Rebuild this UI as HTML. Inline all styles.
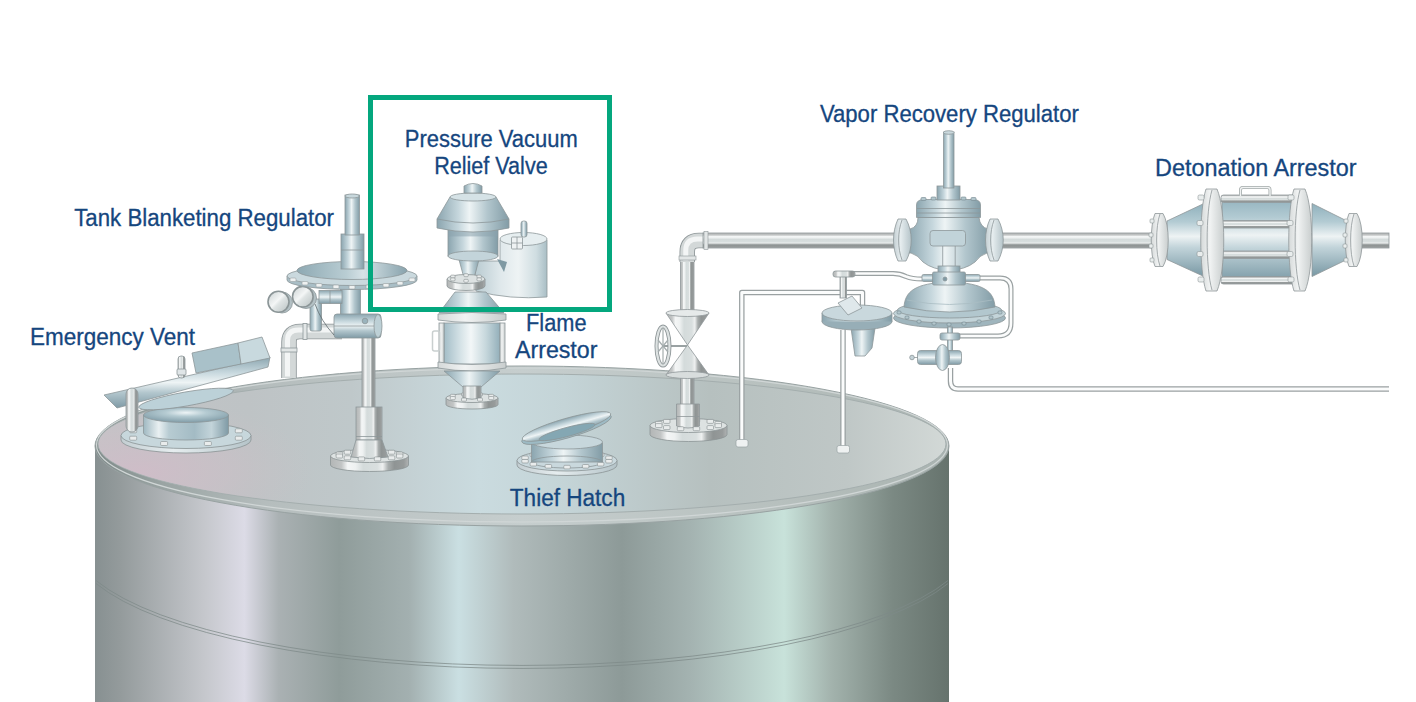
<!DOCTYPE html>
<html><head><meta charset="utf-8"><title>Tank</title>
<style>
html,body{margin:0;padding:0;background:#fff;width:1416px;height:702px;overflow:hidden}
svg{display:block}
.lb{font-family:"Liberation Sans",sans-serif;font-size:23px;fill:#15467e;stroke:#15467e;stroke-width:0.3px}
</style></head><body>
<svg width="1416" height="702" viewBox="0 0 1416 702">
<defs>
<linearGradient id="bodyG" gradientUnits="userSpaceOnUse" x1="95" y1="0" x2="949" y2="0">
<stop offset="0" stop-color="#879091"/>
<stop offset="0.03" stop-color="#949b9c"/>
<stop offset="0.13" stop-color="#c6c8cd"/>
<stop offset="0.175" stop-color="#dcdbe6"/>
<stop offset="0.215" stop-color="#aab1b3"/>
<stop offset="0.286" stop-color="#8f9c9a"/>
<stop offset="0.368" stop-color="#a3b0b0"/>
<stop offset="0.426" stop-color="#cadfe2"/>
<stop offset="0.49" stop-color="#b0bbbb"/>
<stop offset="0.617" stop-color="#8d9a98"/>
<stop offset="0.698" stop-color="#a4b3b1"/>
<stop offset="0.807" stop-color="#c8e2da"/>
<stop offset="0.862" stop-color="#a3b3ad"/>
<stop offset="0.934" stop-color="#7b8983"/>
<stop offset="1" stop-color="#66736d"/>
</linearGradient>
<linearGradient id="lidG" gradientUnits="userSpaceOnUse" x1="95" y1="0" x2="949" y2="0">
<stop offset="0" stop-color="#c2c4c7"/>
<stop offset="0.18" stop-color="#bec3c5"/>
<stop offset="0.3" stop-color="#bfc8ca"/>
<stop offset="0.45" stop-color="#cadbdf"/>
<stop offset="0.55" stop-color="#c4d4d7"/>
<stop offset="0.72" stop-color="#b6c0bf"/>
<stop offset="0.88" stop-color="#bfc7c6"/>
<stop offset="1" stop-color="#d3d9d7"/>
</linearGradient>
<radialGradient id="pinkG" gradientUnits="userSpaceOnUse" cx="140" cy="472" r="175" gradientTransform="translate(140 472) scale(1 0.42) translate(-140 -472)">
<stop offset="0" stop-color="#d0bcc8" stop-opacity="0.9"/>
<stop offset="0.5" stop-color="#cdbfc7" stop-opacity="0.55"/>
<stop offset="1" stop-color="#c8c2c6" stop-opacity="0"/>
</radialGradient>
<linearGradient id="rimG" gradientUnits="userSpaceOnUse" x1="95" y1="0" x2="949" y2="0">
<stop offset="0" stop-color="#808b8a"/>
<stop offset="0.08" stop-color="#9aa4a3"/>
<stop offset="0.2" stop-color="#b5bdbd"/>
<stop offset="0.5" stop-color="#c6cece"/>
<stop offset="0.8" stop-color="#b7c0be"/>
<stop offset="1" stop-color="#a9b3b0"/>
</linearGradient>

<linearGradient id="pv" x1="0" y1="0" x2="1" y2="0">
<stop offset="0" stop-color="#b3b6b6"/><stop offset="0.14" stop-color="#c2c5c5"/><stop offset="0.22" stop-color="#f4f6f6"/><stop offset="0.32" stop-color="#eef1f1"/><stop offset="0.42" stop-color="#d4dbdb"/><stop offset="0.6" stop-color="#d9dfdf"/><stop offset="0.67" stop-color="#eef0f0"/><stop offset="0.74" stop-color="#a9aeae"/><stop offset="0.82" stop-color="#8f9494"/><stop offset="0.94" stop-color="#979b9b"/><stop offset="1" stop-color="#b0b3b3"/>
</linearGradient>
<linearGradient id="ph" x1="0" y1="0" x2="0" y2="1">
<stop offset="0" stop-color="#b3b6b6"/><stop offset="0.14" stop-color="#c2c5c5"/><stop offset="0.22" stop-color="#f4f6f6"/><stop offset="0.32" stop-color="#eef1f1"/><stop offset="0.42" stop-color="#d4dbdb"/><stop offset="0.6" stop-color="#d9dfdf"/><stop offset="0.67" stop-color="#eef0f0"/><stop offset="0.74" stop-color="#a9aeae"/><stop offset="0.82" stop-color="#8f9494"/><stop offset="0.94" stop-color="#979b9b"/><stop offset="1" stop-color="#b0b3b3"/>
</linearGradient>
<linearGradient id="mv" x1="0" y1="0" x2="1" y2="0">
<stop offset="0" stop-color="#8ba5af"/><stop offset="0.3" stop-color="#c6d7dd"/><stop offset="0.45" stop-color="#eef4f5"/><stop offset="0.7" stop-color="#b2c6cd"/><stop offset="1" stop-color="#829ca6"/>
</linearGradient>
<linearGradient id="mh" x1="0" y1="0" x2="0" y2="1">
<stop offset="0" stop-color="#8ba5af"/><stop offset="0.3" stop-color="#c6d7dd"/><stop offset="0.5" stop-color="#eef4f5"/><stop offset="0.7" stop-color="#b2c6cd"/><stop offset="1" stop-color="#7f9aa5"/>
</linearGradient>
<linearGradient id="mi" x1="0" y1="0" x2="1" y2="0">
<stop offset="0" stop-color="#7d98a3"/><stop offset="0.5" stop-color="#a9c0c8"/><stop offset="1" stop-color="#c9d9de"/>
</linearGradient>
<linearGradient id="fl" x1="0" y1="0" x2="1" y2="0">
<stop offset="0" stop-color="#c3ced2"/><stop offset="0.4" stop-color="#e6edef"/><stop offset="1" stop-color="#b5c4c9"/>
</linearGradient>
<linearGradient id="wf" x1="0" y1="0" x2="1" y2="0">
<stop offset="0" stop-color="#d5d9d9"/><stop offset="0.4" stop-color="#f1f3f3"/><stop offset="1" stop-color="#c9cece"/>
</linearGradient>

<linearGradient id="dg" x1="0" y1="0" x2="0" y2="1">
<stop offset="0" stop-color="#8fb0bc"/><stop offset="0.25" stop-color="#b3cbd3"/><stop offset="0.45" stop-color="#eef3f4"/><stop offset="0.6" stop-color="#c2d4da"/><stop offset="1" stop-color="#7898a4"/>
</linearGradient>
<linearGradient id="lw" x1="0" y1="0" x2="1" y2="0">
<stop offset="0" stop-color="#b9cbd1"/><stop offset="0.35" stop-color="#dfe8eb"/><stop offset="0.6" stop-color="#eef3f4"/><stop offset="0.85" stop-color="#cfdde1"/><stop offset="1" stop-color="#a9bec5"/>
</linearGradient>
<linearGradient id="gz" x1="0" y1="0" x2="1" y2="1">
<stop offset="0" stop-color="#c9d0d1"/><stop offset="0.45" stop-color="#f4f6f6"/><stop offset="0.55" stop-color="#dfe4e4"/><stop offset="1" stop-color="#b8c1c2"/>
</linearGradient>
<linearGradient id="dish" x1="0" y1="0" x2="1" y2="0">
<stop offset="0" stop-color="#8ea9b3"/><stop offset="0.45" stop-color="#b9cdd3"/><stop offset="0.6" stop-color="#d6e2e6"/><stop offset="1" stop-color="#88a3ad"/>
</linearGradient>
<linearGradient id="evc" x1="0" y1="0" x2="1" y2="0">
<stop offset="0" stop-color="#9fb8c1"/><stop offset="0.18" stop-color="#e9f0f2"/><stop offset="0.3" stop-color="#b7cbd2"/><stop offset="0.6" stop-color="#a3bbc4"/><stop offset="0.8" stop-color="#c3d4da"/><stop offset="1" stop-color="#7f9aa5"/>
</linearGradient>
<radialGradient id="evi" cx="0.5" cy="0.35" r="0.6">
<stop offset="0" stop-color="#eef4f6"/><stop offset="0.4" stop-color="#b5cbd2"/><stop offset="1" stop-color="#87a2ad"/>
</radialGradient>
<linearGradient id="lb" x1="0" y1="0" x2="1" y2="0">
<stop offset="0" stop-color="#a3bdc7"/><stop offset="0.3" stop-color="#d6e3e7"/><stop offset="0.48" stop-color="#f3f7f8"/><stop offset="0.75" stop-color="#c6d7dc"/><stop offset="1" stop-color="#93afba"/>
</linearGradient>
</defs>




<!-- TANK -->
<rect x="95" y="445" width="854" height="257" fill="url(#bodyG)"/>
<ellipse cx="522" cy="446" rx="427" ry="80" fill="url(#rimG)" stroke="#98a2a2" stroke-width="1"/>
<ellipse cx="522" cy="445" rx="425.5" ry="77" fill="none" stroke="#d0d6d6" stroke-width="1.2"/>
<ellipse cx="522" cy="444" rx="424" ry="70" fill="url(#lidG)" stroke="#a4aeae" stroke-width="1"/>
<ellipse cx="522" cy="444" rx="423.5" ry="69.5" fill="url(#pinkG)"/>
<path d="M96,580.5 A450,125.3 0 0 0 948,580.5" fill="none" stroke="#7d8988" stroke-width="1" opacity="0.75"/>
<path d="M96,583.5 A450,125.3 0 0 0 948,583.5" fill="none" stroke="#7d8988" stroke-width="1" opacity="0.75"/>


<!-- EMERGENCY VENT -->
<g stroke="#8d9799" stroke-width="0.8">
<path d="M121.0,435.5 L121.0,440.0 A65,13 0 0 0 251.0,440.0 L251.0,435.5 Z" fill="url(#fl)" stroke="#8a9394" stroke-width="0.8"/>
<ellipse cx="186" cy="435.5" rx="65" ry="13" fill="#c7d7dc" stroke="#8a9394" stroke-width="0.8"/>
<g fill="#e9ecec" stroke="#848d8e" stroke-width="0.6"><rect x="129.7" y="428.8" width="7" height="4" rx="1"/><rect x="160.6" y="423.5" width="7" height="4" rx="1"/><rect x="204.4" y="423.5" width="7" height="4" rx="1"/><rect x="235.3" y="428.8" width="7" height="4" rx="1"/></g>

<path d="M143.5,415 L143.5,433 A42.5,7 0 0 0 228.5,433 L228.5,415 Z" fill="url(#evc)"/>
<ellipse cx="186" cy="415" rx="42.5" ry="7.5" fill="url(#evi)"/>
<ellipse cx="186" cy="399" rx="48" ry="7" transform="rotate(-10 186 399)" fill="#bcd1d8"/>
<path d="M104,395 L270,357 L268,367 L117,408 Z" fill="url(#mh)"/>
<path d="M192,353 L238,343 L241,364 L196,373 Z" fill="#a9c1c9"/>
<path d="M238,343 L262,337 L270,358 L241,364 Z" fill="#c8d9de"/>
<rect x="178" y="356" width="7" height="22" rx="3" fill="url(#pv)"/>
<rect x="177" y="369" width="9" height="6" rx="1" fill="#dfe5e7"/>
<rect x="126" y="388" width="12" height="44" rx="6" fill="url(#pv)"/>
</g>
<g fill="#e9ecec" stroke="#848d8e" stroke-width="0.6"><rect x="235.3" y="436.2" width="7" height="4" rx="1"/><rect x="204.4" y="441.5" width="7" height="4" rx="1"/><rect x="160.6" y="441.5" width="7" height="4" rx="1"/><rect x="129.7" y="436.2" width="7" height="4" rx="1"/></g>



<!-- TANK BLANKETING REGULATOR -->
<g stroke="#8d9799" stroke-width="0.8">
<!-- elbow + horizontal pipe -->
<path d="M289,378 L289,342 Q289,331.5 300,331.5 L342,331.5" fill="none" stroke="#8f9799" stroke-width="15.5"/>
<path d="M289,378 L289,342 Q289,331.5 300,331.5 L342,331.5" fill="none" stroke="#d3d8d8" stroke-width="13.8"/>
<path d="M289,378 L289,342 Q289,331.5 300,331.5 L342,331.5" fill="none" stroke="#f3f5f5" stroke-width="5" transform="translate(-1.5,-1.5)"/>
<rect x="281" y="348" width="16" height="4" fill="#e2e6e6"/>
<rect x="303" y="323.5" width="4" height="16" fill="#e2e6e6"/>
<!-- lower vertical pipe -->
<rect x="362" y="336" width="13" height="72" fill="url(#pv)"/>
<path d="M330.5,456.0 L330.5,465.0 A39,6.5 0 0 0 408.5,465.0 L408.5,456.0 Z" fill="url(#pv)" stroke="#8a9394" stroke-width="0.8"/>
<ellipse cx="369.5" cy="456" rx="39" ry="6.5" fill="#dde2e2" stroke="#8a9394" stroke-width="0.8"/>
<g fill="#e9ecec" stroke="#848d8e" stroke-width="0.6"><rect x="336.1" y="452.0" width="6.5" height="4" rx="1"/><rect x="344.2" y="450.2" width="6.5" height="4" rx="1"/><rect x="358.2" y="449.1" width="6.5" height="4" rx="1"/><rect x="374.3" y="449.1" width="6.5" height="4" rx="1"/><rect x="388.3" y="450.2" width="6.5" height="4" rx="1"/><rect x="396.4" y="452.0" width="6.5" height="4" rx="1"/></g>
<rect x="356" y="407" width="26" height="33" fill="url(#pv)"/>
<line x1="356" y1="436.5" x2="382" y2="436.5"/>
<path d="M356,440 L382,440 L388,457 Q369.5,460 351,457 Z" fill="url(#pv)"/>
<g fill="#e9ecec" stroke="#848d8e" stroke-width="0.6"><rect x="396.4" y="454.0" width="6.5" height="4" rx="1"/><rect x="388.3" y="455.8" width="6.5" height="4" rx="1"/><rect x="374.3" y="456.9" width="6.5" height="4" rx="1"/><rect x="358.2" y="456.9" width="6.5" height="4" rx="1"/><rect x="344.2" y="455.8" width="6.5" height="4" rx="1"/><rect x="336.1" y="454.0" width="6.5" height="4" rx="1"/></g>

<!-- body -->
<rect x="310" y="299" width="11.5" height="32" rx="2" fill="url(#mv)"/>
<rect x="340.5" y="284" width="20" height="33" fill="url(#mv)"/>
<rect x="319" y="290.5" width="23" height="13" fill="url(#mh)"/>
<line x1="330" y1="290.5" x2="330" y2="303.5"/>
<rect x="334" y="314" width="47" height="24" rx="3" fill="url(#mh)"/>
<ellipse cx="378" cy="326" rx="4" ry="11.5" fill="#bdd0d6"/>
<circle cx="365" cy="321" r="2.8" fill="#9ab3bc"/>
<line x1="334" y1="326" x2="374" y2="326"/>
<path d="M315,304 Q321,321 334,335" fill="none" stroke="#5f6b6e" stroke-width="0.8"/>
<!-- gauges -->
<circle cx="282" cy="302.5" r="10.5" fill="#b3c0c4"/>
<circle cx="306" cy="298" r="10.5" fill="#b3c0c4"/>
<circle cx="278.5" cy="301.8" r="10.5" fill="url(#gz)" stroke="#8b9597" stroke-width="1.6"/>
<circle cx="302.8" cy="296.7" r="10.3" fill="url(#gz)" stroke="#8b9597" stroke-width="1.6"/>
<!-- diaphragm -->
<path d="M287,276 L287,280 A65,9.5 0 0 0 417,280 L417,276 Z" fill="#a9bec6"/>
<ellipse cx="352" cy="276" rx="65" ry="9.5" fill="#cad9de"/>
<ellipse cx="352" cy="270.5" rx="55" ry="9" fill="url(#dish)"/>
<!-- spring housing & stem -->
<rect x="341" y="234" width="23" height="35" fill="url(#mv)"/>
<line x1="341" y1="250" x2="364" y2="250"/>
<rect x="345" y="195" width="14.5" height="40" fill="url(#mv)"/>
<ellipse cx="352.2" cy="196" rx="7.2" ry="2" fill="#c7d7dc"/>
</g>
<g fill="#eef1f1" stroke="#9aa3a5" stroke-width="0.6">
<rect x="290" y="278" width="6" height="3.5" rx="1"/><rect x="302" y="281.5" width="6" height="3.5" rx="1"/><rect x="316" y="283.5" width="6" height="3.5" rx="1"/><rect x="333" y="285" width="6" height="3.5" rx="1"/><rect x="349" y="285.5" width="6" height="3.5" rx="1"/><rect x="366" y="285" width="6" height="3.5" rx="1"/><rect x="383" y="283.5" width="6" height="3.5" rx="1"/><rect x="397" y="281.5" width="6" height="3.5" rx="1"/><rect x="409" y="278" width="6" height="3.5" rx="1"/>
</g>


<!-- PVRV -->
<g stroke="#8d9799" stroke-width="0.8">
<!-- right outlet housing -->
<path d="M500,240 L500,261 L478,261 Q473,276 476,291 Q510,300 547,297 L547,240 Z" fill="url(#lw)"/>
<ellipse cx="523.5" cy="239" rx="23.5" ry="6.5" fill="#e6eef0"/>
<path d="M497,259 L507,262 L504,272 Z" fill="#7f99a3" stroke="none"/>
<rect x="521" y="221" width="6" height="16" rx="2.5" fill="url(#mv)"/>
<rect x="511.5" y="237" width="11" height="12" rx="1" fill="#eef2f3"/>
<line x1="517" y1="237" x2="517" y2="249"/><line x1="511.5" y1="243" x2="522.5" y2="243"/>
<!-- neck -->
<path d="M458,256 L480,256 L474,278 L464,278 Z" fill="url(#mv)"/>
<!-- lower flange -->
<path d="M447.0,279.0 L447.0,286.0 A19,4.5 0 0 0 485.0,286.0 L485.0,279.0 Z" fill="url(#pv)" stroke="#8a9394" stroke-width="0.8"/>
<ellipse cx="466" cy="279" rx="19" ry="4.5" fill="#dde2e2" stroke="#8a9394" stroke-width="0.8"/>
<g fill="#e9ecec" stroke="#848d8e" stroke-width="0.6"><rect x="450.6" y="275.1" width="4.5" height="3" rx="1"/><rect x="463.8" y="273.7" width="4.5" height="3" rx="1"/><rect x="476.9" y="275.1" width="4.5" height="3" rx="1"/></g>
<g fill="#e9ecec" stroke="#848d8e" stroke-width="0.6"><rect x="476.9" y="277.9" width="4.5" height="3" rx="1"/><rect x="463.8" y="279.3" width="4.5" height="3" rx="1"/><rect x="450.6" y="277.9" width="4.5" height="3" rx="1"/></g>

<!-- body cylinder -->
<rect x="448" y="230" width="50" height="26" fill="url(#mv)"/>
<rect x="448.4" y="230.4" width="49.2" height="6" fill="#8aa3ad" opacity="0.55" stroke="none"/>
<ellipse cx="473" cy="256" rx="25" ry="5" fill="#c3d4da"/>
<!-- bonnet cone -->
<path d="M450,197 L496,197 L509,219 L509,228 Q473,236 437,228 L437,219 Z" fill="url(#mv)"/>
<path d="M437,219 Q473,227 509,219" fill="none"/>
<ellipse cx="473" cy="197" rx="23" ry="4" fill="#d5e2e6"/>
<!-- top knob -->
<path d="M464,193 L464,186 Q473,181 482,186 L482,193 Z" fill="url(#mv)"/>
</g>

<!-- FLAME ARRESTOR -->
<g stroke="#8d9799" stroke-width="0.8">
<path d="M455,292 L486,292 L504,313 L439,313 Z" fill="url(#mv)"/>
<path d="M438,314 Q472,311 506,314 L506,320 Q472,325 438,320 Z" fill="url(#wf)"/>
<rect x="444" y="323" width="56" height="41" fill="url(#lb)"/>
<rect x="439" y="323" width="5" height="41" fill="url(#wf)"/>
<rect x="500" y="323" width="5" height="41" fill="url(#wf)"/>
<rect x="432.5" y="331" width="7" height="20" rx="2" fill="none" stroke-width="1.5" stroke="#c9cfcf"/>
<path d="M438,362 Q472,367 506,362 L506,368 Q472,374 438,368 Z" fill="url(#wf)"/>
<path d="M444,371 L500,371 L481,387 L463,387 Z" fill="url(#mv)"/>
<path d="M446.0,398.0 L446.0,404.5 A26,4.5 0 0 0 498.0,404.5 L498.0,398.0 Z" fill="url(#pv)" stroke="#8a9394" stroke-width="0.8"/>
<ellipse cx="472" cy="398" rx="26" ry="4.5" fill="#dde2e2" stroke="#8a9394" stroke-width="0.8"/>
<g fill="#e9ecec" stroke="#848d8e" stroke-width="0.6"><rect x="450.3" y="394.3" width="5" height="3.2" rx="1"/><rect x="461.5" y="392.8" width="5" height="3.2" rx="1"/><rect x="477.5" y="392.8" width="5" height="3.2" rx="1"/><rect x="488.7" y="394.3" width="5" height="3.2" rx="1"/></g>
<path d="M463,386 L481,386 L481,398 Q472,400.5 463,398 Z" fill="url(#pv)"/>
<g fill="#e9ecec" stroke="#848d8e" stroke-width="0.6"><rect x="488.7" y="396.5" width="5" height="3.2" rx="1"/><rect x="477.5" y="398.0" width="5" height="3.2" rx="1"/><rect x="461.5" y="398.0" width="5" height="3.2" rx="1"/><rect x="450.3" y="396.5" width="5" height="3.2" rx="1"/></g>

</g>


<!-- THIEF HATCH -->
<g stroke="#8d9799" stroke-width="0.8">
<path d="M517.0,460.5 L517.0,465.0 A50,10.5 0 0 0 617.0,465.0 L617.0,460.5 Z" fill="url(#fl)" stroke="#8a9394" stroke-width="0.8"/>
<ellipse cx="567" cy="460.5" rx="50" ry="10.5" fill="#c9d8dd" stroke="#8a9394" stroke-width="0.8"/>
<g fill="#e9ecec" stroke="#848d8e" stroke-width="0.6"><rect x="521.8" y="456.0" width="6.5" height="3.6" rx="1"/><rect x="530.1" y="453.0" width="6.5" height="3.6" rx="1"/><rect x="545.1" y="450.9" width="6.5" height="3.6" rx="1"/><rect x="563.8" y="450.1" width="6.5" height="3.6" rx="1"/><rect x="582.4" y="450.9" width="6.5" height="3.6" rx="1"/><rect x="597.4" y="453.0" width="6.5" height="3.6" rx="1"/><rect x="605.7" y="456.0" width="6.5" height="3.6" rx="1"/></g>

<rect x="531.5" y="443" width="71" height="19" fill="url(#mv)"/>
<ellipse cx="567" cy="462" rx="35.5" ry="6" fill="none"/>
<ellipse cx="567" cy="442" rx="35.5" ry="7" fill="#c7d7dc"/>
<ellipse cx="566.5" cy="429" rx="46.5" ry="9" transform="rotate(-16 566.5 429)" fill="#9dbac4"/>
<ellipse cx="566.5" cy="426.5" rx="46" ry="8" transform="rotate(-16 566.5 426.5)" fill="url(#mh)"/>
<ellipse cx="567" cy="432" rx="29" ry="4.5" transform="rotate(-15 567 432)" fill="#84a7b3"/>
</g>
<g fill="#e9ecec" stroke="#848d8e" stroke-width="0.6"><rect x="605.7" y="459.4" width="6.5" height="3.6" rx="1"/><rect x="597.4" y="462.4" width="6.5" height="3.6" rx="1"/><rect x="582.4" y="464.5" width="6.5" height="3.6" rx="1"/><rect x="563.8" y="465.3" width="6.5" height="3.6" rx="1"/><rect x="545.1" y="464.5" width="6.5" height="3.6" rx="1"/><rect x="530.1" y="462.4" width="6.5" height="3.6" rx="1"/><rect x="521.8" y="459.4" width="6.5" height="3.6" rx="1"/></g>


<!-- VALVE WITH HANDWHEEL -->
<g stroke="#8f9799" stroke-width="0.8">
<rect x="680.5" y="376" width="13.5" height="30" fill="url(#pv)"/>
<path d="M650.0,425.5 L650.0,434.5 A38.5,7 0 0 0 727.0,434.5 L727.0,425.5 Z" fill="url(#pv)" stroke="#8a9394" stroke-width="0.8"/>
<ellipse cx="688.5" cy="425.5" rx="38.5" ry="7" fill="#dde2e2" stroke="#8a9394" stroke-width="0.8"/>
<g fill="#e9ecec" stroke="#848d8e" stroke-width="0.6"><rect x="655.5" y="421.4" width="6.5" height="4" rx="1"/><rect x="663.5" y="419.4" width="6.5" height="4" rx="1"/><rect x="677.3" y="418.3" width="6.5" height="4" rx="1"/><rect x="693.2" y="418.3" width="6.5" height="4" rx="1"/><rect x="707.0" y="419.4" width="6.5" height="4" rx="1"/><rect x="715.0" y="421.4" width="6.5" height="4" rx="1"/></g>
<path d="M676.5,404 L699.5,404 L699.5,426 Q688,430 676.5,426 Z" fill="url(#pv)"/>
<line x1="676.5" y1="416.5" x2="699.5" y2="416.5"/>
<g fill="#e9ecec" stroke="#848d8e" stroke-width="0.6"><rect x="715.0" y="423.6" width="6.5" height="4" rx="1"/><rect x="707.0" y="425.6" width="6.5" height="4" rx="1"/><rect x="693.2" y="426.7" width="6.5" height="4" rx="1"/><rect x="677.3" y="426.7" width="6.5" height="4" rx="1"/><rect x="663.5" y="425.6" width="6.5" height="4" rx="1"/><rect x="655.5" y="423.6" width="6.5" height="4" rx="1"/></g>

<rect x="680.5" y="246" width="13.5" height="68" fill="url(#pv)"/>
<path d="M666,313 L709,313 L687.5,345 Z" fill="url(#pv)"/>
<ellipse cx="687.5" cy="313" rx="21.5" ry="3.5" fill="#e6eaea"/>
<path d="M666,375 L709,375 L687.5,345 Z" fill="url(#pv)"/>
<ellipse cx="687.5" cy="375" rx="21.5" ry="3.5" fill="#d8dddd"/>
<line x1="664" y1="346" x2="687" y2="346" stroke="#9aa2a3" stroke-width="2"/>
<ellipse cx="663" cy="346" rx="6.5" ry="19.5" fill="none" stroke="#8f9799" stroke-width="4"/>
<ellipse cx="663" cy="346" rx="6.5" ry="19.5" fill="none" stroke="#dde2e2" stroke-width="2.2"/>
<line x1="663" y1="328" x2="663" y2="364" stroke="#a5adae" stroke-width="1.2"/>
<line x1="658" y1="340" x2="668" y2="352" stroke="#a5adae" stroke-width="1.2"/>
<line x1="668" y1="340" x2="658" y2="352" stroke="#a5adae" stroke-width="1.2"/>
</g>



<!-- MAIN HORIZONTAL PIPE -->
<g>
<path d="M687.25,262 L687.25,252 Q687.25,240.5 699,240.5 L705,240.5" fill="none" stroke="#8f9799" stroke-width="15.5"/>
<path d="M687.25,262 L687.25,252 Q687.25,240.5 699,240.5 L705,240.5" fill="none" stroke="#d3d8d8" stroke-width="13.8"/>
<path d="M687.25,262 L687.25,252 Q687.25,240.5 699,240.5 L705,240.5" fill="none" stroke="#f3f5f5" stroke-width="5" transform="translate(-1.5,-1.5)"/>
<rect x="703" y="233" width="686" height="15" fill="url(#ph)" stroke="#8f9799" stroke-width="0.8"/>
<rect x="704" y="231.5" width="4" height="18" fill="#e2e6e6" stroke="#8f9799" stroke-width="0.6"/>
<rect x="679" y="256" width="17" height="4" fill="#e2e6e6" stroke="#8f9799" stroke-width="0.6"/>
</g>

<!-- SENSE LINES / TUBING -->
<g fill="none" stroke-linejoin="round">
<path d="M741.8,443 L741.8,292.5 L862.5,292.5 L862.5,312" stroke="#9aa1a2" stroke-width="5.5"/>
<path d="M741.8,443 L741.8,292.5 L862.5,292.5 L862.5,312" stroke="#fbfcfc" stroke-width="3"/>
<path d="M843,330 L843,450" stroke="#9aa1a2" stroke-width="5.5"/>
<path d="M843,330 L843,450" stroke="#fbfcfc" stroke-width="3"/>
<path d="M834,273.5 L893,273.5 Q900,273.5 906,276.5 Q912,279 922,279" stroke="#9aa1a2" stroke-width="5"/>
<path d="M834,273.5 L893,273.5 Q900,273.5 906,276.5 Q912,279 922,279" stroke="#fbfcfc" stroke-width="2.6"/>
<path d="M966,278 L1000,278 Q1011,278 1011,289 L1011,323 Q1011,336 998,336 L955,336" stroke="#9aa1a2" stroke-width="5"/>
<path d="M966,278 L1000,278 Q1011,278 1011,289 L1011,323 Q1011,336 998,336 L955,336" stroke="#fbfcfc" stroke-width="2.6"/>
<path d="M950.5,368 L950.5,381 Q950.5,389 958,389 L1389,389" stroke="#9aa1a2" stroke-width="5.5"/>
<path d="M950.5,368 L950.5,381 Q950.5,389 958,389 L1389,389" stroke="#fbfcfc" stroke-width="3"/>
</g>
<g fill="#eef1f1" stroke="#9aa3a5" stroke-width="0.7">
<rect x="736" y="439.5" width="12" height="7.5" rx="2"/>
<rect x="837" y="445.5" width="12.5" height="7.5" rx="2"/>
</g>

<!-- VAPOR RECOVERY REGULATOR -->
<g stroke="#8d9799" stroke-width="0.8">
<!-- body with necks -->
<path d="M918,217.5 L979,217.5 Q980,227 988,229 L990,229 L990,253 L987,253 Q980,255 975,262 Q965,270 949,270 Q933,270 923,262 Q918,255 911,253 L908,253 L908,229 L910,229 Q918,227 918,217.5 Z" fill="url(#mv)"/>
<rect x="930" y="230.5" width="35.5" height="15.5" rx="3" fill="#c1d3d9"/>
<line x1="942.7" y1="246" x2="942.7" y2="268"/><line x1="955.2" y1="246" x2="955.2" y2="268"/>
<!-- side flanges -->
<path d="M898,219 C892,232 892,248 898,261 L906,261 C913,248 913,232 906,219 Z" fill="url(#fl)"/>
<path d="M902,220 C897.5,232 897.5,248 902,260" fill="none"/>
<path d="M990,219 C984,232 984,248 990,261 L998,261 C1005,248 1005,232 998,219 Z" fill="url(#fl)"/>
<path d="M994,220 C989.5,232 989.5,248 994,260" fill="none"/>
<!-- bonnet -->
<path d="M916.5,217.5 L916.5,205 Q916.5,199.5 924,199.5 L973,199.5 Q980.5,199.5 980.5,205 L980.5,217.5 Z" fill="url(#mv)"/>
<line x1="917" y1="208.5" x2="980" y2="208.5"/>
<line x1="917" y1="213" x2="980" y2="213"/>
<rect x="937" y="186" width="23" height="14" fill="url(#mv)"/>
<rect x="943.5" y="132" width="10.5" height="56" fill="url(#mv)"/>
<ellipse cx="948.75" cy="132.5" rx="5.25" ry="1.8" fill="#c9d8dd"/>
<!-- diaphragm case -->
<ellipse cx="949.5" cy="318" rx="56" ry="10" fill="#9fb5bd"/>
<ellipse cx="949.5" cy="313.5" rx="56" ry="9.5" fill="#c3d4d9"/>
<ellipse cx="949.5" cy="310" rx="52" ry="8" fill="#b2c7ce"/>
<path d="M904,307 C905,292 914,283 949.5,282 C985,283 994,292 995,307 Q949.5,317 904,307 Z" fill="url(#mv)"/>
<path d="M907,300 Q949.5,309 992,300" fill="none" stroke="#a9bcc3"/>
<rect x="938" y="266" width="22" height="9" fill="url(#mv)"/>
<rect x="922" y="274.5" width="58" height="7" rx="1.5" fill="url(#mh)"/>
<rect x="932.5" y="272" width="33" height="13" rx="1.5" fill="url(#mv)"/>
<circle cx="945" cy="279" r="2" fill="#7f9aa4"/>
</g>
<g fill="#b3c6cc" stroke="#72878f" stroke-width="0.6">
<rect x="921" y="197.5" width="5" height="3" rx="1"/><rect x="931" y="197" width="5" height="3" rx="1"/><rect x="961" y="197" width="5" height="3" rx="1"/><rect x="971" y="197.5" width="5" height="3" rx="1"/>
<rect x="897" y="311" width="4" height="3" rx="1"/><rect x="905" y="316" width="4" height="3" rx="1"/><rect x="917" y="320" width="4" height="3" rx="1"/><rect x="932" y="322" width="4" height="3" rx="1"/><rect x="947" y="323" width="4" height="3" rx="1"/><rect x="962" y="322" width="4" height="3" rx="1"/><rect x="977" y="320" width="4" height="3" rx="1"/><rect x="989" y="316" width="4" height="3" rx="1"/><rect x="998" y="311" width="4" height="3" rx="1"/>
</g>
<g stroke="#8d9799" stroke-width="0.8">
<!-- pilot -->
<path d="M851,328 L875,328 L872,348 L865,356 L855,356 Z" fill="url(#mv)"/>
<ellipse cx="857" cy="321.5" rx="35" ry="8.5" fill="#97aeb7"/>
<rect x="822" y="313" width="70" height="8.5" fill="url(#mv)" stroke="none"/>
<line x1="822" y1="313" x2="822" y2="321.5"/><line x1="892" y1="313" x2="892" y2="321.5"/>
<ellipse cx="857" cy="313" rx="35" ry="8" fill="#c9d8dd"/>
<path d="M838,303 L852,296 L862,308 L848,315 Z" fill="#dfe8eb"/>
<rect x="840" y="276" width="6.5" height="22" fill="url(#pv)"/>
<rect x="833" y="271" width="22" height="6" rx="2.5" fill="url(#pv)"/>
<!-- small fitting -->
<rect x="947.5" y="327" width="5" height="24" fill="url(#mv)"/>
<rect x="940" y="333" width="20" height="7" rx="2" fill="url(#mv)"/>

<rect x="917.5" y="350.5" width="44" height="14" rx="3" fill="url(#mh)"/>
<ellipse cx="942.5" cy="357.5" rx="7" ry="13" fill="url(#mv)"/>
<circle cx="912" cy="357.5" r="2.3" fill="#c5d3d8"/>
<line x1="914" y1="357.5" x2="918" y2="357.5"/>
</g>

<!-- DETONATION ARRESTOR -->
<g stroke="#8f9799" stroke-width="0.8">
<path d="M1167,221 L1204,203.5 L1204,276.5 L1167,259.5 Z" fill="url(#dg)"/>
<path d="M1312,203.5 L1347,221 L1347,259.5 L1312,276.5 Z" fill="url(#dg)"/>
<rect x="1222" y="196" width="72" height="87" fill="url(#dg)"/>
<rect x="1221" y="195" width="74" height="7.5" rx="2.5" fill="url(#ph)"/>
<rect x="1221" y="220.5" width="74" height="7.5" rx="2.5" fill="url(#ph)"/>
<rect x="1221" y="251" width="74" height="7.5" rx="2.5" fill="url(#ph)"/>
<rect x="1221" y="276.5" width="74" height="7.5" rx="2.5" fill="url(#ph)"/>
<path d="M1240.5,196 L1240.5,190 Q1240.5,187.5 1243,187.5 L1267.5,187.5 Q1270,187.5 1270,190 L1270,196" fill="none" stroke="#a3aaaa" stroke-width="3"/>
<path d="M1240.5,196 L1240.5,190 Q1240.5,187.5 1243,187.5 L1267.5,187.5 Q1270,187.5 1270,190 L1270,196" fill="none" stroke="#f0f2f2" stroke-width="1.4"/>
<!-- flanges -->
<path d="M1155,213.5 C1150,225 1150,255 1155,266.5 L1163,266.5 C1170,255 1170,225 1163,213.5 Z" fill="url(#wf)"/>
<path d="M1160,214 C1155.5,226 1155.5,254 1160,266" fill="none"/>
<path d="M1206,189 C1199,210 1199,270 1206,291 L1217,291 C1226,270 1226,210 1217,189 Z" fill="url(#wf)"/>
<path d="M1212,190 C1205.5,212 1205.5,268 1212,290" fill="none"/>
<path d="M1294,189 C1287,210 1287,270 1294,291 L1305,291 C1314,270 1314,210 1305,189 Z" fill="url(#wf)"/>
<path d="M1300,190 C1293.5,212 1293.5,268 1300,290" fill="none"/>
<path d="M1349,213.5 C1344,225 1344,255 1349,266.5 L1357,266.5 C1364,255 1364,225 1357,213.5 Z" fill="url(#wf)"/>
<path d="M1354,214 C1349.5,226 1349.5,254 1354,266" fill="none"/>
</g>
<g fill="#e9eded" stroke="#8f9799" stroke-width="0.6">
<rect x="1150" y="219" width="4" height="4" rx="1"/><rect x="1149" y="233" width="4" height="4" rx="1"/><rect x="1149" y="244" width="4" height="4" rx="1"/><rect x="1150" y="258" width="4" height="4" rx="1"/>
<rect x="1344" y="219" width="4" height="4" rx="1"/><rect x="1343" y="233" width="4" height="4" rx="1"/><rect x="1343" y="244" width="4" height="4" rx="1"/><rect x="1344" y="258" width="4" height="4" rx="1"/>
<rect x="1198" y="195" width="6" height="5" rx="1.5"/><rect x="1197" y="220.5" width="6" height="5" rx="1.5"/><rect x="1197" y="251.5" width="6" height="5" rx="1.5"/><rect x="1198" y="277" width="6" height="5" rx="1.5"/>
<rect x="1288" y="195" width="6" height="5" rx="1.5"/><rect x="1287" y="220.5" width="6" height="5" rx="1.5"/><rect x="1287" y="251.5" width="6" height="5" rx="1.5"/><rect x="1288" y="277" width="6" height="5" rx="1.5"/>
</g>

<!-- GREEN BOX -->
<rect x="370.5" y="97.5" width="239" height="212" fill="none" stroke="#04a77e" stroke-width="5"/>

<!-- LABELS -->
<text class="lb" x="404.8" y="146.7" textLength="172.9" lengthAdjust="spacingAndGlyphs">Pressure Vacuum</text>
<text class="lb" x="434.2" y="174.2" textLength="113.5" lengthAdjust="spacingAndGlyphs">Relief Valve</text>
<text class="lb" x="74.2" y="226.0" textLength="259.8" lengthAdjust="spacingAndGlyphs">Tank Blanketing Regulator</text>
<text class="lb" x="30.0" y="345.0" textLength="165.0" lengthAdjust="spacingAndGlyphs">Emergency Vent</text>
<text class="lb" x="526" y="330.7" textLength="60.5" lengthAdjust="spacingAndGlyphs">Flame</text>
<text class="lb" x="515.0" y="358.0" textLength="82.4" lengthAdjust="spacingAndGlyphs">Arrestor</text>
<text class="lb" x="509.8" y="505.9" textLength="115.4" lengthAdjust="spacingAndGlyphs">Thief Hatch</text>
<text class="lb" x="819.9" y="122.0" textLength="259.0" lengthAdjust="spacingAndGlyphs">Vapor Recovery Regulator</text>
<text class="lb" x="1155.0" y="175.7" textLength="201.6" lengthAdjust="spacingAndGlyphs">Detonation Arrestor</text>

</svg>
</body></html>
